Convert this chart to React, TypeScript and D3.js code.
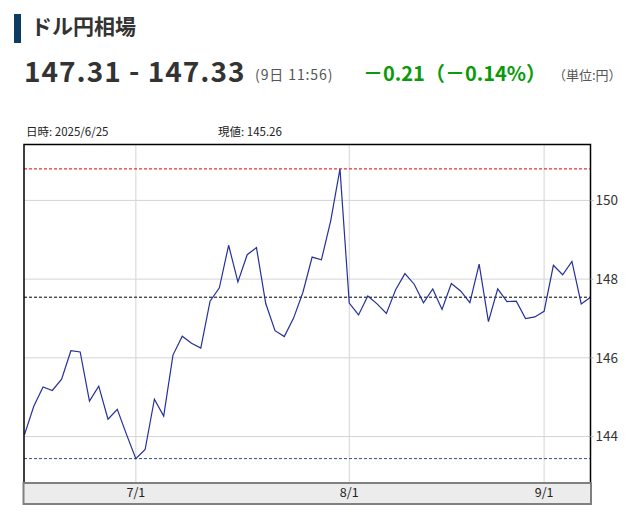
import * as d3 from "d3";

// USD/JPY daily closes, 2025/6/13 - 2025/9/8 (business days)
const startDay = new Date(2025, 5, 13);
const endDay = new Date(2025, 8, 9);
const closes = [
  144.05, 144.77, 145.26, 145.17, 145.46, 146.18, 146.15, 144.9, 145.28, 144.44,
  144.69, 144.05, 143.44, 143.67, 144.95, 144.52, 146.07, 146.55, 146.37, 146.25,
  147.44, 147.78, 148.86, 147.93, 148.62, 148.8, 147.38, 146.69, 146.54, 147.01,
  147.66, 148.56, 148.49, 149.48, 150.8, 147.39, 147.09, 147.57, 147.37, 147.13,
  147.73, 148.14, 147.87, 147.4, 147.75, 147.23, 147.89, 147.7, 147.4, 148.38,
  146.92, 147.75, 147.43, 147.44, 147.0, 147.04, 147.18, 148.35, 148.11, 148.45,
  147.37, 147.54
];
const yTicks = [144, 146, 148, 150];
const yRange = [142.82, 151.42];

const title = "ドル円相場";
const bidAsk = "147.31 - 147.33";
const stamp = "(9日 11:56)";
const change = "－0.21（－0.14%）";
const unit = "（単位:円）";
const hoverDate = "日時: 2025/6/25";
const hoverValue = "現値: 145.26";

const font = "'Noto Sans CJK JP', 'Noto Sans', sans-serif";

export default function App() {
  const width = 636;
  const height = 522;
  const left = 24;
  const right = 590.5;
  const top = 144.5;
  const bottom = 483;
  const axisH = 21;

  const dates = d3.timeDay
    .range(startDay, endDay)
    .filter((d) => d.getDay() !== 0 && d.getDay() !== 6);
  const data = dates.map((d, i) => ({ date: d, value: closes[i] }));

  const x = d3.scalePoint<Date>(dates, [left + 0.5, right]);
  const y = d3.scaleLinear(yRange, [bottom, top]);
  const line = d3
    .line<{ date: Date; value: number }>()
    .x((d) => x(d.date) as number)
    .y((d) => y(d.value));

  const monthStarts = dates.filter(
    (d, i) => i > 0 && d.getMonth() !== dates[i - 1].getMonth()
  );
  const fmt = d3.timeFormat("%-m/%-d");

  const hi = d3.max(closes) as number;
  const lo = d3.min(closes) as number;
  const last = closes[closes.length - 1];

  return (
    <svg
      width={width}
      height={height}
      style={{ position: "absolute", left: 0, top: 0, fontFamily: font }}
    >
      <rect width={width} height={height} fill="#fff" />

      {/* header */}
      <rect x={14} y={14} width={7} height={29} fill="#0e3c61" />
      <text x={31} y={34} fontSize={21} fontWeight="bold" fill="#333">
        {title}
      </text>
      <text x={24} y={82} fontSize={28} fontWeight="bold" fill="#333" letterSpacing={1}>
        {bidAsk}
      </text>
      <text x={255} y={80} fontSize={14} fill="#555" letterSpacing={0.9}>
        {stamp}
      </text>
      <text x={363} y={81} fontSize={20} fontWeight="bold" fill="#0a9a0a">
        {change}
      </text>
      <text x={553} y={80} fontSize={13} fill="#555">
        {unit}
      </text>

      <text x={26} y={136} fontSize={11.5} fill="#222">
        {hoverDate}
      </text>
      <text x={218} y={136} fontSize={11.5} fill="#222">
        {hoverValue}
      </text>

      {/* grid */}
      <g stroke="#d4d4d4" strokeWidth={1}>
        {yTicks.map((t) => (
          <line key={t} x1={left} x2={right} y1={y(t)} y2={y(t)} />
        ))}
        {monthStarts.map((d) => (
          <line key={+d} x1={x(d)} x2={x(d)} y1={top} y2={bottom} />
        ))}
      </g>

      {/* reference lines */}
      <line x1={left} x2={right} y1={y(hi)} y2={y(hi)} stroke="#e00000" strokeDasharray="3,2" />
      <line x1={left} x2={right} y1={y(last)} y2={y(last)} stroke="#000" strokeDasharray="3,2" />
      <line x1={left} x2={right} y1={y(lo)} y2={y(lo)} stroke="#34507a" strokeDasharray="3,2" />

      <path d={line(data) || ""} fill="none" stroke="#25309a" strokeWidth={1.2} />

      {/* frame */}
      <path
        d={`M${left},${bottom}V${top}H${right}V${bottom}`}
        fill="none"
        stroke="#000"
        strokeWidth={1.5}
      />

      {/* right axis */}
      <g fontSize={13.5} fill="#333">
        {yTicks.map((t) => (
          <g key={t}>
            <line x1={right} x2={right + 3} y1={y(t)} y2={y(t)} stroke="#bbb" />
            <text x={right + 5} y={y(t)} dy="0.35em">
              {t}
            </text>
          </g>
        ))}
      </g>

      {/* bottom axis band */}
      <rect
        x={left - 0.5}
        y={bottom}
        width={right - left + 1}
        height={axisH}
        fill="#ececec"
        stroke="#808080"
        strokeWidth={2}
      />
      <g fontSize={12.5} fill="#222" textAnchor="middle">
        {monthStarts.map((d) => (
          <text key={+d} x={x(d)} y={bottom + 14}>
            {fmt(d)}
          </text>
        ))}
      </g>
    </svg>
  );
}
